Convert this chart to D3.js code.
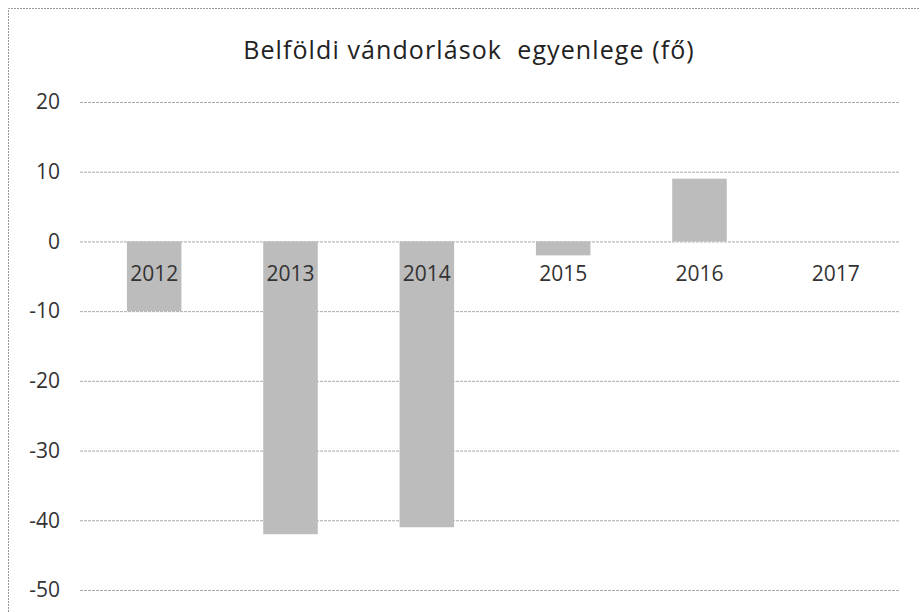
<!DOCTYPE html>
<html><head><meta charset="utf-8">
<script src="https://cdn.jsdelivr.net/npm/d3@7"></script>
<style>body{margin:0;background:#fff}svg{display:block}</style>
</head><body>
<script>
const years = ["2012","2013","2014","2015","2016","2017"];
const values = [-10, -42, -41, -2, 9, 0];
const tickValues = [20, 10, 0, -10, -20, -30, -40, -50];
const title = "Belföldi vándorlások  egyenlege (fő)";

const W = 920, H = 612;
const svg = d3.select("body").append("svg").attr("width", W).attr("height", H);
svg.append("rect").attr("width", W).attr("height", H).attr("fill", "#fff");

// chart border (only left and top visible in the scan)
svg.append("path").attr("d", "M8.5,612 V8.5 H920").attr("fill", "none")
  .attr("stroke", "#999").attr("stroke-width", 1).attr("stroke-dasharray", "2,1");

const x = d3.scaleBand().domain(years).range([86, 904]).paddingInner(0.6).paddingOuter(0.3);
const y = d3.scaleLinear().domain([-50, 20]).range([590, 102]);

svg.append("text").attr("x", 469).attr("y", 59).attr("text-anchor", "middle")
  .attr("font-family", "Open Sans").attr("font-size", 25).attr("letter-spacing", 1.1)
  .attr("fill", "#222")
  .attr("xml:space", "preserve").style("white-space", "pre").text(title);

// gridlines
const yAxis = d3.axisLeft(y).tickValues(tickValues).tickSize(-820).tickPadding(20)
  .tickFormat(d => String(d));
const g = svg.append("g").attr("transform", "translate(80,0)").call(yAxis);
g.select(".domain").remove();
g.selectAll(".tick line").attr("stroke", "#aaa").attr("stroke-width", 1).attr("stroke-dasharray", "3,1");
g.selectAll(".tick text").attr("font-family", "Open Sans").attr("font-size", 21).attr("fill", "#333").attr("x", -20);

// bars
svg.selectAll("rect.bar").data(values).enter().append("rect").attr("class", "bar")
  .attr("x", (d, i) => x(years[i]))
  .attr("width", x.bandwidth())
  .attr("y", d => y(Math.max(0, d)))
  .attr("height", d => Math.abs(y(d) - y(0)))
  .attr("fill", "#bcbcbc");

// category labels
const xAxis = d3.axisBottom(x).tickSize(0).tickPadding(0);
const gx = svg.append("g").attr("transform", `translate(0,${y(0)})`).call(xAxis);
gx.select(".domain").remove();
gx.selectAll(".tick text").attr("font-family", "Open Sans").attr("font-size", 21)
  .attr("fill", "#333").attr("dy", "1.9em");
</script>
</body></html>
